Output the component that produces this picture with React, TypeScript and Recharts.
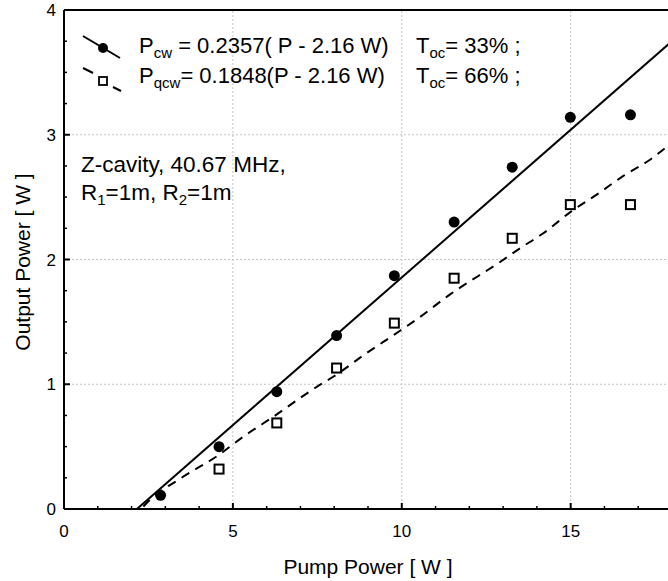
import { ComposedChart, Line, Scatter, XAxis, YAxis, ReferenceLine } from 'recharts';

// measured points, cw pumping (filled circles)
const cwPoints = [
  { x: 2.86, y: 0.11 },
  { x: 4.59, y: 0.5 },
  { x: 6.3, y: 0.94 },
  { x: 8.07, y: 1.39 },
  { x: 9.78, y: 1.87 },
  { x: 11.55, y: 2.3 },
  { x: 13.27, y: 2.74 },
  { x: 14.99, y: 3.14 },
  { x: 16.77, y: 3.16 },
];

// measured points, qcw pumping (open squares)
const qcwPoints = [
  { x: 4.59, y: 0.32 },
  { x: 6.3, y: 0.69 },
  { x: 8.07, y: 1.13 },
  { x: 9.78, y: 1.49 },
  { x: 11.55, y: 1.85 },
  { x: 13.27, y: 2.17 },
  { x: 14.99, y: 2.44 },
  { x: 16.77, y: 2.44 },
];

// linear fit, cw
const cwFit = [
  { x: 2.16, y: 0 },
  { x: 18, y: 3.75 },
];

// fit curve, qcw
const qcwFit = [
  { x: 2.35, y: 0.02 },
  { x: 2.55, y: 0.075 },
  { x: 3.48, y: 0.25 },
  { x: 4.59, y: 0.435 },
  { x: 5.31, y: 0.58 },
  { x: 6.31, y: 0.76 },
  { x: 6.99, y: 0.89 },
  { x: 7.43, y: 0.97 },
  { x: 7.97, y: 1.06 },
  { x: 8.96, y: 1.25 },
  { x: 9.79, y: 1.4 },
  { x: 10.44, y: 1.52 },
  { x: 11.43, y: 1.72 },
  { x: 12.91, y: 1.98 },
  { x: 13.5, y: 2.09 },
  { x: 14.19, y: 2.21 },
  { x: 14.99, y: 2.38 },
  { x: 15.77, y: 2.52 },
  { x: 16.56, y: 2.67 },
  { x: 17.35, y: 2.8 },
  { x: 18, y: 2.94 },
];

const xTicks = [0, 1, 2, 3, 4, 5, 6, 7, 8, 9, 10, 11, 12, 13, 14, 15, 16, 17, 18];
const xLabels = [0, 5, 10, 15];
const yTicks = [0, 0.25, 0.5, 0.75, 1, 1.25, 1.5, 1.75, 2, 2.25, 2.5, 2.75, 3, 3.25, 3.5, 3.75, 4];
const yLabels = [0, 1, 2, 3, 4];
const gridX = [5, 10, 15];
const gridY = [1, 2, 3];

const FONT = 'Liberation Sans, Arial, sans-serif';

const BottomTick = (props: any) => {
  const { x, y, payload } = props;
  const major = xLabels.includes(payload.value);
  return (
    <g>
      <line x1={x} x2={x} y1={y} y2={y - (major ? 6 : 3)} stroke="#000" strokeWidth={major ? 2 : 1.5} />
      {major && (
        <text x={x} y={y + 28} textAnchor="middle" fontSize={17} fontFamily={FONT} fill="#000">
          {payload.value}
        </text>
      )}
    </g>
  );
};

const TopTick = (props: any) => {
  const { x, y, payload } = props;
  const major = xLabels.includes(payload.value);
  return <line x1={x} x2={x} y1={y} y2={y + (major ? 6 : 3)} stroke="#000" strokeWidth={major ? 2 : 1.5} />;
};

const LeftTick = (props: any) => {
  const { x, y, payload } = props;
  const major = yLabels.includes(payload.value);
  return (
    <g>
      <line x1={x} x2={x + (major ? 6 : 3)} y1={y} y2={y} stroke="#000" strokeWidth={major ? 2 : 1.5} />
      {major && (
        <text x={x - 8} y={y + 6} textAnchor="end" fontSize={17} fontFamily={FONT} fill="#000">
          {payload.value}
        </text>
      )}
    </g>
  );
};

const Dot = (props: any) => <circle cx={props.cx} cy={props.cy} r={5.5} fill="#000" />;
const Square = (props: any) => (
  <rect x={props.cx - 4.5} y={props.cy - 4.5} width={9} height={9} fill="#fff" stroke="#000" strokeWidth={2} />
);

export default function App() {
  return (
    <div style={{ position: 'absolute', left: 0, top: 0, width: 668, height: 581, overflow: 'hidden', background: '#fff' }}>
      <ComposedChart width={672} height={581} margin={{ top: 0, right: 0, bottom: 0, left: 0 }}>
        <XAxis
          dataKey="x"
          type="number"
          domain={[0, 18]}
          ticks={xTicks}
          interval={0}
          height={72}
          tickSize={0}
          tickMargin={0}
          tick={BottomTick}
          axisLine={{ stroke: '#000', strokeWidth: 2 }}
          allowDataOverflow
        />
        <XAxis
          xAxisId="top"
          orientation="top"
          type="number"
          domain={[0, 18]}
          ticks={xTicks}
          interval={0}
          height={10}
          tickSize={0}
          tickMargin={0}
          tick={TopTick}
          axisLine={{ stroke: '#000', strokeWidth: 2 }}
          allowDataOverflow
        />
        <YAxis
          dataKey="y"
          type="number"
          domain={[0, 4]}
          ticks={yTicks}
          interval={0}
          width={64}
          tickSize={0}
          tickMargin={0}
          tick={LeftTick}
          axisLine={{ stroke: '#000', strokeWidth: 2 }}
          allowDataOverflow
        />
        {gridX.map((v) => (
          <ReferenceLine key={'gx' + v} x={v} stroke="#c4c4c4" strokeDasharray="2 2" />
        ))}
        {gridY.map((v) => (
          <ReferenceLine key={'gy' + v} y={v} stroke="#c4c4c4" strokeDasharray="2 2" />
        ))}
        <Line data={cwFit} dataKey="y" type="linear" stroke="#000" strokeWidth={2} dot={false} isAnimationActive={false} />
        <Line
          data={qcwFit}
          dataKey="y"
          type="monotone"
          stroke="#000"
          strokeWidth={2}
          strokeDasharray="9 7"
          dot={false}
          isAnimationActive={false}
        />
        <Scatter data={cwPoints} dataKey="y" shape={Dot} isAnimationActive={false} />
        <Scatter data={qcwPoints} dataKey="y" shape={Square} isAnimationActive={false} />
      </ComposedChart>
      <svg
        width={668}
        height={581}
        style={{ position: 'absolute', left: 0, top: 0, pointerEvents: 'none' }}
        fontFamily={FONT}
        fill="#000"
      >
        {/* legend */}
        <line x1={83} y1={36} x2={120} y2={58} stroke="#000" strokeWidth={2} />
        <circle cx={103} cy={48} r={5} fill="#000" />
        <line x1={83} y1={68} x2={93} y2={73} stroke="#000" strokeWidth={2} />
        <line x1={113} y1={87} x2={121} y2={91} stroke="#000" strokeWidth={2} />
        <rect x={99} y={77} width={8} height={8} fill="#fff" stroke="#000" strokeWidth={1.8} />
        <text x={139} y={53} fontSize={22}>
          P<tspan fontSize={15} dy={5}>cw</tspan>
          <tspan dy={-5}> = 0.2357( P - 2.16 W)</tspan>
        </text>
        <text x={416} y={53} fontSize={22}>
          T<tspan fontSize={15} dy={5}>oc</tspan>
          <tspan dy={-5}>= 33% ;</tspan>
        </text>
        <text x={139} y={83} fontSize={22}>
          P<tspan fontSize={15} dy={5}>qcw</tspan>
          <tspan dy={-5}>= 0.1848(P - 2.16 W)</tspan>
        </text>
        <text x={416} y={83} fontSize={22}>
          T<tspan fontSize={15} dy={5}>oc</tspan>
          <tspan dy={-5}>= 66% ;</tspan>
        </text>
        {/* annotation */}
        <text x={81} y={172} fontSize={22.5}>
          Z-cavity, 40.67 MHz,
        </text>
        <text x={81} y={200} fontSize={22.5}>
          R<tspan fontSize={15} dy={5}>1</tspan>
          <tspan dy={-5}>=1m, R</tspan>
          <tspan fontSize={15} dy={5}>2</tspan>
          <tspan dy={-5}>=1m</tspan>
        </text>
        {/* axis titles */}
        <text x={368} y={574} fontSize={21} textAnchor="middle">
          Pump Power [ W ]
        </text>
        <text x={0} y={0} fontSize={21} textAnchor="middle" transform="translate(30 262) rotate(-90)">
          Output Power [ W ]
        </text>
      </svg>
    </div>
  );
}
